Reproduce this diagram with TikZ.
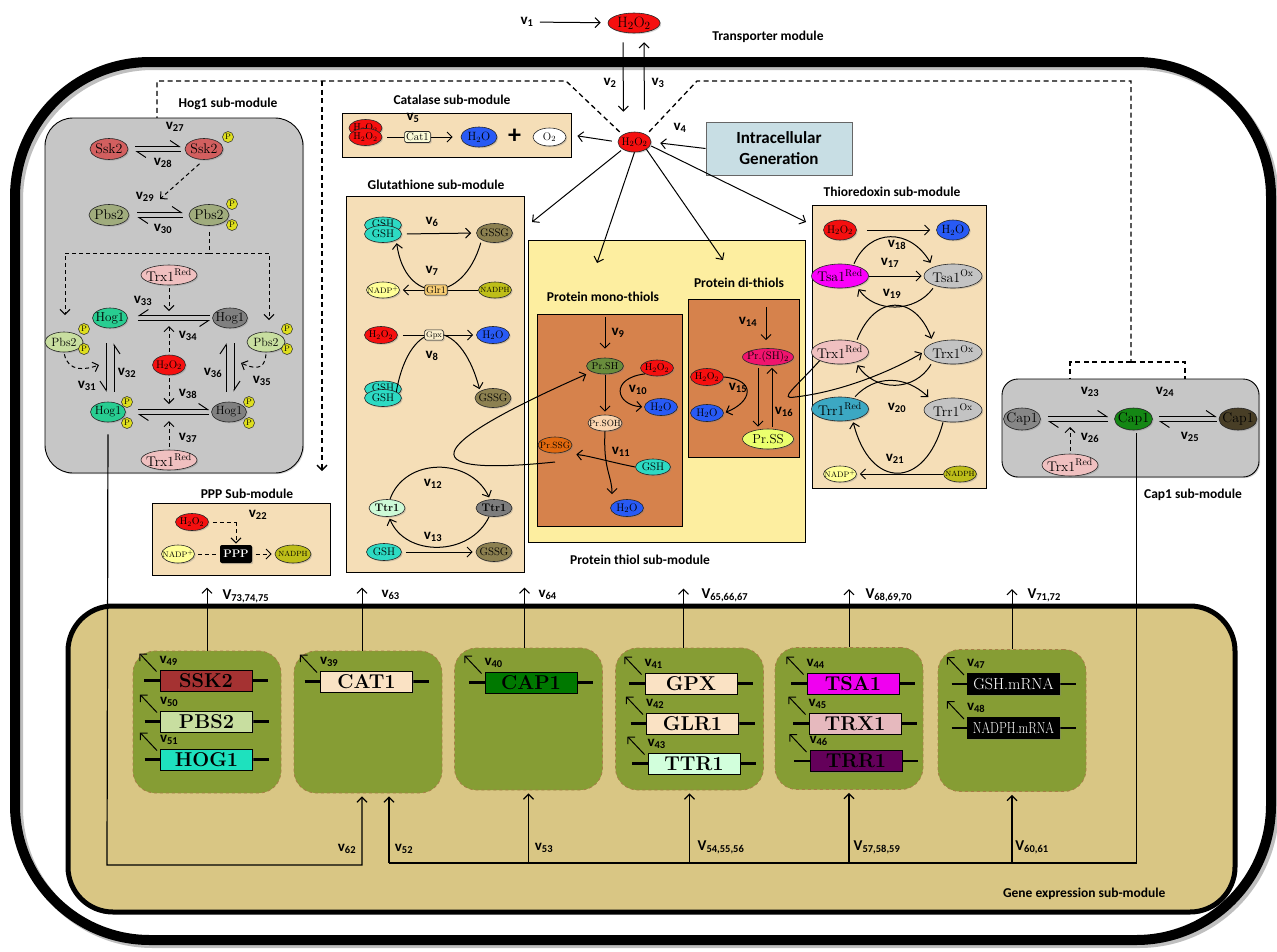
\documentclass[tikz,border=0pt]{standalone}
\usepackage{fontspec}
\newfontfamily\lab{Carlito}
\usetikzlibrary{arrows.meta,shapes.geometric,shadows}

% species colours
\definecolor{hred}{RGB}{245,15,15}
\definecolor{hblue}{RGB}{40,90,245}
\definecolor{tanb}{RGB}{245,222,183}
\definecolor{igen}{RGB}{200,222,228}
\definecolor{modgray}{RGB}{198,198,198}
\definecolor{ptyel}{RGB}{253,238,160}
\definecolor{ptorg}{RGB}{214,130,76}
\definecolor{sskc}{RGB}{210,95,95}
\definecolor{pbsd}{RGB}{160,172,125}
\definecolor{pbsl}{RGB}{200,222,160}
\definecolor{pyel}{RGB}{222,222,30}
\definecolor{hoggr}{RGB}{40,205,145}
\definecolor{hoggy}{RGB}{128,128,128}
\definecolor{trxred}{RGB}{240,192,192}
\definecolor{gshc}{RGB}{45,218,195}
\definecolor{gssgc}{RGB}{140,128,80}
\definecolor{nadpc}{RGB}{255,255,150}
\definecolor{nadphc}{RGB}{190,190,25}
\definecolor{glrc}{RGB}{248,205,115}
\definecolor{gpxc}{RGB}{250,238,205}
\definecolor{catc}{RGB}{250,250,215}
\definecolor{ttrl}{RGB}{205,250,215}
\definecolor{ttrg}{RGB}{125,125,125}
\definecolor{prshc}{RGB}{105,140,60}
\definecolor{prsohc}{RGB}{250,212,175}
\definecolor{prssgc}{RGB}{225,105,15}
\definecolor{prshtc}{RGB}{240,20,110}
\definecolor{prssc}{RGB}{235,255,110}
\definecolor{tsared}{RGB}{250,0,250}
\definecolor{oxgray}{RGB}{195,195,195}
\definecolor{trrred}{RGB}{60,168,195}
\definecolor{capgy}{RGB}{135,135,135}
\definecolor{capgn}{RGB}{20,135,20}
\definecolor{capdk}{RGB}{72,62,38}
% gene expression colours
\definecolor{getan}{RGB}{217,198,132}
\definecolor{grpfill}{RGB}{134,157,52}
\definecolor{grpline}{RGB}{165,125,70}
\definecolor{sskg}{RGB}{165,50,50}
\definecolor{pbsg}{RGB}{200,222,160}
\definecolor{hogg}{RGB}{30,225,190}
\definecolor{catg}{RGB}{250,226,196}
\definecolor{capg}{RGB}{0,120,0}
\definecolor{ttrgn}{RGB}{210,255,220}
\definecolor{tsag}{RGB}{240,0,240}
\definecolor{trxg}{RGB}{230,185,190}
\definecolor{trrg}{RGB}{100,0,90}

\tikzset{
  shd/.style={drop shadow={opacity=0.35,shadow xshift=1.2pt,shadow yshift=-1.2pt}},
  fs/.style={font=\fontsize{#1}{#1}\selectfont},
  mol/.style 2 args={ellipse,draw=black!85,line width=0.6pt,minimum width=#1,minimum height=#2,
    inner sep=0pt,shd,execute at begin node={\hbox to 0pt\bgroup\hss},execute at end node={\hss\egroup}},
  pho/.style={circle,draw=black!85,line width=0.5pt,fill=pyel,inner sep=0pt,minimum size=11pt,fs=8},
  enz/.style={rectangle,draw=black!85,line width=0.6pt,rounded corners=1.5pt,inner sep=1.5pt,shd},
  modbox/.style={rectangle,draw=black,line width=0.9pt,inner sep=0pt,shd},
  modlab/.style={font=\lab\bfseries\fontsize{13.5}{15}\selectfont,inner sep=0pt},
  rate/.style={font=\lab\bfseries\fontsize{15}{15}\selectfont,inner sep=0pt},
  dsh/.style={dash pattern=on 5pt off 3.5pt,line width=1.3pt},
  cat/.style={->,dash pattern=on 4pt off 3pt,line width=1pt},
  hp/.style={-{Straight Barb[left,length=9pt,width=12pt]}},
  hq/.style={-{Straight Barb[right,length=9pt,width=12pt]}},
  genegrp/.style={rectangle,draw=grpline,dashed,line width=0.8pt,fill=grpfill,rounded corners=22pt,
    minimum width=148pt,minimum height=142pt,inner sep=0pt},
  genebox/.style={rectangle,draw=black,line width=1pt,minimum width=92pt,minimum height=21pt,
    inner sep=0pt,font=\bfseries\fontsize{20}{20}\selectfont,shd},
}

\newcommand{\vsub}[1]{v\textsubscript{#1}}
\newcommand{\Vsub}[1]{V\textsubscript{#1}}
% gene: name, x, y, look, text, rate
\newcommand{\gene}[6]{%
  \draw[line width=2.4pt] (#2-62,#3) -- (#2+62,#3);
  \node[genebox,#4] (#1) at (#2,#3) {#5};
  \draw[->] ([xshift=-3pt,yshift=-2pt]#1.north west) -- ++(-17,-18);
  \node[rate,anchor=west] (#1v) at (#2-47,#3-20) {#6};}

\begin{document}
\begin{tikzpicture}[x=1pt,y=-1pt,>={Straight Barb[length=5pt,width=10pt]},line width=1pt]
\useasboundingbox (0,0) rectangle (1277,951);

% cell wall
\draw[line width=10pt,black!25,rounded corners=135pt] (18,65) rectangle (1274,943);
\draw[line width=10pt,rounded corners=135pt] (15,62) rectangle (1271,940);

% ---- transporter module
\node[mol={52pt}{20pt},fill=hred,fs=15] (h2o2ex) at (634,23) {H$_2$O$_2$};
\node[mol={33pt}{20pt},fill=hred,fs=11] (h2o2in) at (634.5,142) {H$_2$O$_2$};
\node[rate] (r1) at (527,22) {\vsub{1}};
\draw[->,shorten <=6pt,shorten >=7pt] (r1) -- (h2o2ex);
\draw[->,shorten <=9pt,shorten >=20pt] ([xshift=-11pt]h2o2ex.south) -- ([xshift=-11pt]h2o2in.north);
\draw[->,shorten <=22pt,shorten >=9pt] ([xshift=10pt]h2o2in.north) -- ([xshift=10pt]h2o2ex.south);
\node[rate] (r2) at (610,83) {\vsub{2}};
\node[rate] (r3) at (658,83) {\vsub{3}};
\node[modlab] (ltrans) at (768,37) {Transporter module};

\node[draw=black!60,fill=igen,line width=1pt,minimum width=146pt,minimum height=53pt,align=center,
  font=\lab\bfseries\fontsize{17}{21}\selectfont,shd] (igen) at (779,148.5) {Intracellular\\Generation};
\draw[->,shorten >=9pt] (igen.west) -- (h2o2in.east);
\node[rate] (r4) at (680,128) {\vsub{4}};

% signalling from cytosolic h2o2
\coordinate (dl1) at (566,81);
\coordinate (dl2) at (157,81);
\coordinate (dl3) at (157,131);
\coordinate (dl4) at (322,81);
\coordinate (dl5) at (322,471);
\coordinate (dr1) at (697,81);
\coordinate (dr2) at (1131,81);
\coordinate (dr3) at (1131,362);
\coordinate (dr4) at (1070,362);
\coordinate (dr5) at (1185,362);
\coordinate (c23) at (1070,404);
\coordinate (c24) at (1185,404);
\draw[dsh,->,shorten <=4pt] (h2o2in.north west) -- (dl1) -- (dl2) -- (dl3);
\draw[dsh,->] (dl4) -- (dl5);
\draw[dsh,shorten <=4pt] (h2o2in.north east) -- (dr1) -- (dr2) -- (dr3);
\draw[dsh,->] (dr3) -- (dr4) -- (c23);
\draw[dsh,->] (dr3) -- (dr5) -- (c24);

% ---- catalase
\node[modbox,fill=tanb,minimum width=229pt,minimum height=44pt] (catbox) at (456.5,135) {};
\node[modlab] (catlab) at (452,100) {Catalase sub-module};
\node[mol={33pt}{17pt},fill=hred,fs=10] (h2o2c1) at (365.5,128) {H$_2$O$_2$};
\node[mol={33pt}{17pt},fill=hred,fs=10] (h2o2c2) at (365.5,137) {H$_2$O$_2$};
\node[enz,fill=catc,fs=11] (cat1) at (417.5,137) {Cat1};
\node[mol={36pt}{20pt},fill=hblue,fs=12] (h2oc) at (479,137) {H$_2$O};
\node[font=\lab\bfseries\fontsize{26}{26}\selectfont,inner sep=0pt] (plus) at (514.5,136) {+};
\node[mol={33pt}{18pt},fill=white,fs=11] (o2c) at (549.5,137) {O$_2$};
\draw[shorten <=5pt] (h2o2c2.east) -- (cat1.west);
\draw[->,shorten >=8pt] (cat1.east) -- (h2oc.west);
\node[rate] (r5) at (413,118) {\vsub{5}};
\draw[->,shorten <=6pt,shorten >=6pt] (h2o2in.west) -- (catbox.east);

% ---- hog1 module
\node[modbox,fill=modgray,rounded corners=28pt,minimum width=258pt,minimum height=355pt] (hogbox) at (174,295.5) {};
\node[modlab] (hoglab) at (228,104) {Hog1 sub-module};
\node[mol={38pt}{21pt},fill=sskc,fs=14] (ssk2) at (109,149) {Ssk2};
\node[mol={38pt}{21pt},fill=sskc,fs=14] (ssk2p) at (204,149) {Ssk2};
\node[pho] (ssk2pa) at (228,137) {P};
\draw[hp,shorten <=7pt,shorten >=4pt] ([yshift=2.5pt]ssk2.east) -- ([yshift=2.5pt]ssk2p.west);
\draw[hp,shorten <=4pt,shorten >=7pt] ([yshift=-2.5pt]ssk2p.west) -- ([yshift=-2.5pt]ssk2.east);
\node[rate] (r27) at (175,127) {\vsub{27}};
\node[rate] (r28) at (163,163) {\vsub{28}};

\node[mol={40pt}{21pt},fill=pbsd,fs=14] (pbs2) at (109,215) {Pbs2};
\node[mol={40pt}{21pt},fill=pbsd,fs=14] (pbs2p) at (209,215) {Pbs2};
\node[pho] (pbs2pa) at (232,204) {P};
\node[pho] (pbs2pb) at (232,225) {P};
\draw[hp,shorten <=8pt,shorten >=6pt] ([yshift=2.5pt]pbs2.east) -- ([yshift=2.5pt]pbs2p.west);
\draw[hp,shorten <=6pt,shorten >=8pt] ([yshift=-2.5pt]pbs2p.west) -- ([yshift=-2.5pt]pbs2.east);
\coordinate (c29) at (160,199);
\draw[cat,shorten <=6pt] (ssk2p.south) -- (c29);
\node[rate] (r29) at (145,197) {\vsub{29}};
\node[rate] (r30) at (163,229) {\vsub{30}};

\node[mol={56pt}{20pt},fill=trxred,fs=14] (trx1a) at (169,275) {Trx1$^{\mathrm{Red}}$};
\node[mol={35pt}{20pt},fill=hoggr,fs=13] (hog1a) at (110,318) {Hog1};
\node[mol={35pt}{20pt},fill=hoggy,fs=13] (hog1b) at (230,318) {Hog1};
\node[mol={38pt}{20pt},fill=pbsl,fs=12] (pbs2l) at (64,342) {Pbs2};
\node[pho] (pbs2la) at (84,329) {P};
\node[pho] (pbs2lb) at (84,349) {P};
\node[mol={38pt}{20pt},fill=pbsl,fs=12] (pbs2r) at (266,342) {Pbs2};
\node[pho] (pbs2ra) at (287,329) {P};
\node[pho] (pbs2rb) at (287,349) {P};
\node[mol={33pt}{20pt},fill=hred,fs=11] (h2o2h) at (169,365) {H$_2$O$_2$};
\node[mol={35pt}{20pt},fill=hoggr,fs=12] (hog1c) at (108,412) {Hog1};
\node[pho] (hog1ca) at (127,402) {P};
\node[pho] (hog1cb) at (127,423) {P};
\node[mol={35pt}{20pt},fill=hoggy,fs=12] (hog1d) at (229,412) {Hog1};
\node[pho] (hog1da) at (249,402) {P};
\node[pho] (hog1db) at (249,423) {P};
\node[mol={56pt}{20pt},fill=trxred,fs=14] (trx1b) at (169,460) {Trx1$^{\mathrm{Red}}$};

% pbs2 feeds both hog1 branches
\coordinate (pb1) at (209,253);
\coordinate (pb2) at (65,253);
\coordinate (pb3) at (269,253);
\coordinate (pb4) at (65,315);
\coordinate (pb5) at (269,320);
\draw[cat,-,shorten <=6pt] (pbs2p.south) -- (pb1);
\draw[cat] (pb1) -- (pb2) -- (pb4);
\draw[cat] (pb1) -- (pb3) -- (pb5);

% hog1 oxidation / reduction
\draw[hq,shorten <=2pt,shorten >=10pt] ([yshift=2.5pt]hog1b.west) -- ([yshift=2.5pt]hog1a.east);
\draw[hq,shorten <=10pt,shorten >=2pt] ([yshift=-2.5pt]hog1a.east) -- ([yshift=-2.5pt]hog1b.west);
\draw[hp,shorten <=12pt,shorten >=2pt] ([yshift=2.5pt]hog1c.east) -- ([yshift=2.5pt]hog1d.west);
\draw[hp,shorten <=2pt,shorten >=12pt] ([yshift=-2.5pt]hog1d.west) -- ([yshift=-2.5pt]hog1c.east);
% hog1 phosphorylation
\draw[hq,shorten <=15pt,shorten >=10pt] ([xshift=-4pt]hog1a.south) -- ([xshift=-2pt]hog1c.north);
\draw[hq,shorten <=10pt,shorten >=15pt] ([xshift=6pt]hog1c.north) -- ([xshift=4pt]hog1a.south);
\draw[hp,shorten <=10pt,shorten >=15pt] ([xshift=-3pt]hog1d.north) -- ([xshift=-4pt]hog1b.south);
\draw[hp,shorten <=15pt,shorten >=10pt] ([xshift=4pt]hog1b.south) -- ([xshift=5pt]hog1d.north);

\coordinate (c33) at (169,311);
\coordinate (c34) at (169,326);
\coordinate (c38) at (169,404);
\coordinate (c37) at (169,421);
\coordinate (c31) at (99,365);
\coordinate (c35) at (241,363);
\draw[cat,shorten <=3pt] (trx1a.south) -- (c33);
\draw[cat,shorten <=3pt] (h2o2h.north) -- (c34);
\draw[cat,shorten <=3pt] (h2o2h.south) -- (c38);
\draw[cat,shorten <=3pt] (trx1b.north) -- (c37);
\draw[cat,shorten <=2pt] (pbs2l.south) .. controls (68,372) and (85,370) .. (c31);
\draw[cat,shorten <=2pt] (pbs2r.south) .. controls (265,372) and (252,368) .. (c35);
\node[rate] (r31) at (87,386) {\vsub{31}};
\node[rate] (r32) at (127,373) {\vsub{32}};
\node[rate] (r33) at (143,301) {\vsub{33}};
\node[rate] (r34) at (188,336) {\vsub{34}};
\node[rate] (r35) at (262,381) {\vsub{35}};
\node[rate] (r36) at (213,373) {\vsub{36}};
\node[rate] (r37) at (188,438) {\vsub{37}};
\node[rate] (r38) at (188,394) {\vsub{38}};

% ---- ppp module
\node[modbox,fill=tanb,minimum width=178pt,minimum height=72pt] (pppbox) at (241,539) {};
\node[modlab] (ppplab) at (247,494) {PPP Sub-module};
\node[mol={33pt}{17pt},fill=hred,fs=10] (h2o2p) at (192,522) {H$_2$O$_2$};
\node[mol={33pt}{18pt},fill=nadpc,fs=8] (nadpp) at (178,554) {NADP$^+$};
\node[rectangle,fill=black,text=white,rounded corners=2pt,minimum width=32pt,minimum height=18pt,inner sep=0pt,
  font=\bfseries\fontsize{11}{11}\selectfont,shd] (ppp) at (236,554) {PPP};
\node[mol={36pt}{18pt},fill=nadphc,fs=7.5] (nadphp) at (293,554) {NADPH};
\coordinate (pk) at (236,522);
\draw[cat,-,shorten <=4pt] (h2o2p.east) -- (pk);
\draw[cat,shorten >=1pt] (pk) -- (ppp.north);
\draw[cat,-,shorten <=3pt,shorten >=3pt] (nadpp.east) -- (ppp.west);
\draw[cat,shorten <=3pt,shorten >=3pt] (ppp.east) -- (nadphp.west);
\node[rate] (r22) at (258,515) {\vsub{22}};

% ---- glutathione module
\node[modbox,fill=tanb,minimum width=178pt,minimum height=376pt] (glutbox) at (435,384) {};
\node[modlab] (glutlab) at (436,185) {Glutathione sub-module};
\node[mol={37pt}{16pt},fill=gshc,fs=11] (gsh1b) at (383,225) {\raisebox{2pt}{GSH}};
\node[mol={37pt}{17pt},fill=gshc,fs=11] (gsh1) at (383,234) {GSH};
\node[mol={36pt}{19pt},fill=gssgc,fs=11] (gssg1) at (494.5,233) {GSSG};
\node[mol={33pt}{16pt},fill=nadpc,fs=8] (nadpg) at (383,290) {NADP$^+$};
\node[mol={33pt}{16pt},fill=nadphc,fs=7.5] (nadphg) at (495,290) {NADPH};
\draw[->,shorten <=5pt,shorten >=5pt] (gsh1.east) -- (gssg1.west);
\draw[->,shorten <=3pt,shorten >=3pt] (gssg1.south west) .. controls (463,305) and (405,305) .. (gsh1.south east);
\draw[->,shorten >=3pt] (nadphg) -- (nadpg);
\node[enz,fill=glrc,fs=10] (glr1) at (436,290) {Glr1};
\node[rate] (r6) at (432,222) {\vsub{6}};
\node[rate] (r7) at (432,271) {\vsub{7}};

\node[mol={33pt}{17pt},fill=hred,fs=10] (h2o2g) at (381,335) {H$_2$O$_2$};
\node[mol={33pt}{17pt},fill=hblue,fs=11] (h2og) at (493,335) {H$_2$O};
\node[mol={37pt}{16pt},fill=gshc,fs=11] (gsh2b) at (383,389) {\raisebox{2pt}{GSH}};
\node[mol={37pt}{17pt},fill=gshc,fs=11] (gsh2) at (383,398) {GSH};
\node[mol={36pt}{19pt},fill=gssgc,fs=11] (gssg2) at (493,398) {GSSG};
\draw[->,shorten <=5pt,shorten >=3pt] (h2o2g) -- (h2og);
\draw[->,shorten >=2pt] (gsh2.north east) .. controls (410,315) and (460,315) .. (gssg2.north west);
\node[enz,fill=gpxc,fs=8] (gpx) at (434,335) {Gpx};
\node[rate] (r8) at (432,356) {\vsub{8}};

\node[mol={36pt}{17pt},fill=ttrl,font=\bfseries\fontsize{11}{11}\selectfont] (ttr1a) at (387,508) {Ttr1};
\node[mol={36pt}{17pt},fill=ttrg,font=\bfseries\fontsize{11}{11}\selectfont] (ttr1b) at (494,508) {Ttr1};
\node[mol={35pt}{17pt},fill=gshc,fs=11] (gsh3) at (384,552) {GSH};
\node[mol={36pt}{19pt},fill=gssgc,fs=11] (gssg3) at (494,552) {GSSG};
\draw[->,shorten >=2pt] ([xshift=3pt]ttr1a.north) .. controls (405,457) and (470,457) .. ([xshift=-4pt]ttr1b.north);
\draw[->,shorten >=2pt] ([xshift=-5pt]ttr1b.south) .. controls (470,557) and (405,557) .. ([xshift=2pt]ttr1a.south);
\draw[->,shorten <=4pt,shorten >=3pt] (gsh3) -- (gssg3);
\node[rate] (r12) at (433,484) {\vsub{12}};
\node[rate] (r13) at (433,537) {\vsub{13}};

% ---- protein thiol module
\node[modbox,fill=ptyel,minimum width=277pt,minimum height=302pt] (ptbox) at (666.5,391) {};
\node[modlab] (ptlab) at (640,560) {Protein thiol sub-module};
\node[modbox,fill=ptorg,minimum width=145pt,minimum height=212pt] (monobox) at (609.5,420) {};
\node[modbox,fill=ptorg,minimum width=111pt,minimum height=158pt] (dibox) at (743.5,378) {};
\node[modlab] (monolab) at (603,297) {Protein mono-thiols};
\node[modlab] (dilab) at (739,283) {Protein di-thiols};

% ---- thioredoxin box (contents further down)
\node[modbox,fill=tanb,minimum width=174pt,minimum height=283pt] (thiobox) at (899,346.5) {};
\node[modlab] (thiolab) at (892,192) {Thioredoxin sub-module};

% arrows into the sub-modules
\coordinate (glutin) at (532,222);
\coordinate (monoin) at (597,263);
\coordinate (diin) at (723,260);
\coordinate (thioin) at (806,222);
\draw[->,shorten <=2pt] (h2o2in.south west) -- (glutin);
\draw[->] (h2o2in.south) -- (monoin);
\draw[->] (h2o2in.south east) -- (diin);
\draw[->] ([yshift=-4pt]h2o2in.east) -- (thioin);

% mono-thiols
\coordinate (v9src) at (605,317);
\node[mol={37pt}{16pt},fill=prshc,fs=10] (prsh) at (605,366) {Pr.SH};
\node[mol={33pt}{16pt},fill=hred,fs=10] (h2o2m) at (657,368) {H$_2$O$_2$};
\node[mol={33pt}{17pt},fill=hblue,fs=11] (h2om) at (661,407) {H$_2$O};
\node[mol={34pt}{16pt},fill=prsohc,fs=9] (prsoh) at (605,423) {Pr.SOH};
\node[mol={34pt}{16pt},fill=prssgc,fs=9] (prssg) at (555,445) {Pr.SSG};
\node[mol={35pt}{16pt},fill=gshc,fs=11] (gshm) at (653,467) {GSH};
\node[mol={33pt}{17pt},fill=hblue,fs=11] (h2om2) at (627,508) {H$_2$O};
\draw[->,shorten >=9pt] (v9src) -- (prsh.north);
\draw[->,shorten >=2pt] (h2o2m.south west) .. controls (610,378) and (615,405) .. (h2om.west);
\draw[->,shorten <=1pt,shorten >=3pt] (prsh) -- (prsoh);
\draw[->,shorten >=5pt] (prsoh.south) .. controls (603,470) and (612,475) .. ([xshift=-15pt]h2om2.north);
\draw[->,shorten >=4pt] (gshm.west) .. controls (610,462) and (590,456) .. ([yshift=-9pt]prssg.east);
\node[rate] (r9) at (618,333) {\vsub{9}};
\node[rate] (r10) at (638,390) {\vsub{10}};
\node[rate] (r11) at (621,452) {\vsub{11}};

% di-thiols
\coordinate (v14src) at (766,307);
\node[mol={51pt}{17pt},fill=prshtc,fs=11] (prsh2) at (768,357) {Pr.(SH)$_2$};
\node[mol={33pt}{17pt},fill=hred,fs=10] (h2o2d) at (707,377) {H$_2$O$_2$};
\node[mol={33pt}{17pt},fill=hblue,fs=11] (h2od) at (707,413) {H$_2$O};
\node[mol={51pt}{20pt},fill=prssc,fs=13] (prss) at (768,439) {Pr.SS};
\draw[->,shorten >=8pt] (v14src) -- ([xshift=-2pt]prsh2.north);
\draw[->,shorten >=2pt] (h2o2d.east) .. controls (757,380) and (752,402) .. (h2od.east);
\draw[->,shorten <=2pt,shorten >=2pt] ([xshift=-10pt]prsh2.south) -- ([xshift=-10pt]prss.north);
\draw[->,shorten <=2pt,shorten >=2pt] ([xshift=4pt]prss.north) -- ([xshift=4pt]prsh2.south);
\node[rate] (r14) at (748,322) {\vsub{14}};
\node[rate] (r15) at (738,388) {\vsub{15}};
\node[rate] (r16) at (784,412) {\vsub{16}};

% glutathionylated protein recycled back to pr.sh
\draw[->,shorten >=6pt] ([yshift=-17pt]prssg.center) .. controls (380,480) and (460,430) .. (prsh.south west);

% ---- thioredoxin module
\node[mol={33pt}{20pt},fill=hred,fs=11] (h2o2t) at (840,230) {H$_2$O$_2$};
\node[mol={33pt}{20pt},fill=hblue,fs=12] (h2ot) at (953,230) {H$_2$O};
\node[mol={57pt}{24pt},fill=tsared,fs=14] (tsa1r) at (840,276) {Tsa1$^{\mathrm{Red}}$};
\node[mol={58pt}{24pt},fill=oxgray,fs=14] (tsa1o) at (953,276) {Tsa1$^{\mathrm{Ox}}$};
\node[mol={57pt}{24pt},fill=trxred,fs=14] (trx1r) at (840,352) {Trx1$^{\mathrm{Red}}$};
\node[mol={58pt}{24pt},fill=oxgray,fs=14] (trx1o) at (953,352) {Trx1$^{\mathrm{Ox}}$};
\node[mol={57pt}{24pt},fill=trrred,fs=14] (trr1r) at (840,409) {Trr1$^{\mathrm{Red}}$};
\node[mol={58pt}{24pt},fill=oxgray,fs=14] (trr1o) at (953,410) {Trr1$^{\mathrm{Ox}}$};
\node[mol={33pt}{16pt},fill=nadpc,fs=8] (nadpt) at (840,474) {NADP$^+$};
\node[mol={33pt}{16pt},fill=nadphc,fs=7.5] (nadpht) at (960,474) {NADPH};
\draw[->,shorten <=10pt,shorten >=6pt] (h2o2t) -- (h2ot);
\draw[->,shorten >=1pt] ([xshift=14pt]tsa1r.north) .. controls (870,228) and (910,228) .. ([xshift=-22pt]tsa1o.north);
\draw[->,shorten >=2pt] (tsa1r.east) -- (tsa1o.west);
\draw[->,shorten >=1pt] ([xshift=-20pt]tsa1o.south) .. controls (915,313) and (875,313) .. ([xshift=18pt]tsa1r.south);
\draw[->,shorten >=1pt] ([xshift=17pt]trx1r.north) .. controls (875,294) and (915,294) .. ([xshift=-21pt]trx1o.north);
\draw[->,shorten >=1pt] ([xshift=-22pt]trx1o.south) .. controls (915,392) and (875,392) .. ([xshift=17pt]trx1r.south);
\draw[->,shorten >=1pt] ([xshift=15pt]trr1r.north) .. controls (875,375) and (905,375) .. ([xshift=-24pt]trr1o.north);
\draw[->,shorten >=1pt] ([xshift=-10pt]trr1o.south) .. controls (925,490) and (870,490) .. ([xshift=13pt]trr1r.south);
\draw[->,shorten >=3pt] (nadpht) -- (nadpt);
% trx1 reduces the di-thiol disulphide
\draw[->,shorten >=2pt] (trx1r.south west) .. controls (795,388) and (778,400) .. (795,397) .. controls (840,392) and (890,372) .. (trx1o.west);
\node[rate] (r17) at (890,263) {\vsub{17}};
\node[rate] (r18) at (897,245) {\vsub{18}};
\node[rate] (r19) at (892,294) {\vsub{19}};
\node[rate] (r20) at (897,408) {\vsub{20}};
\node[rate] (r21) at (895,459) {\vsub{21}};

% ---- cap1 module
\node[modbox,fill=modgray,rounded corners=16pt,minimum width=257pt,minimum height=98pt] (capbox) at (1130.5,428) {};
\node[modlab] (caplab) at (1193,495) {Cap1 sub-module};
\node[mol={37pt}{22pt},fill=capgy,fs=14] (cap1a) at (1022,419) {Cap1};
\node[mol={38pt}{22pt},fill=capgn,fs=14] (cap1g) at (1133.5,419) {Cap1};
\node[mol={38pt}{22pt},fill=capdk,fs=14] (cap1d) at (1238,419) {Cap1};
\node[mol={56pt}{22pt},fill=trxred,fs=14] (trx1c) at (1070,465) {Trx1$^{\mathrm{Red}}$};
\draw[hp,shorten <=7pt,shorten >=6pt] ([yshift=2.5pt]cap1a.east) -- ([yshift=2.5pt]cap1g.west);
\draw[hp,shorten <=6pt,shorten >=7pt] ([yshift=-2.5pt]cap1g.west) -- ([yshift=-2.5pt]cap1a.east);
\draw[hp,shorten <=6pt,shorten >=2pt] ([yshift=2.5pt]cap1g.east) -- ([yshift=2.5pt]cap1d.west);
\draw[hp,shorten <=2pt,shorten >=6pt] ([yshift=-2.5pt]cap1d.west) -- ([yshift=-2.5pt]cap1g.east);
\coordinate (c26) at (1070,427);
\draw[cat,shorten <=3pt] (trx1c.north) -- (c26);
\node[rate] (r23) at (1090,392) {\vsub{23}};
\node[rate] (r24) at (1165,392) {\vsub{24}};
\node[rate] (r25) at (1190,437) {\vsub{25}};
\node[rate] (r26) at (1090,438) {\vsub{26}};

% ---- gene expression module
\node[rectangle,draw=black,line width=5pt,fill=getan,rounded corners=45pt,minimum width=1167pt,
  minimum height=306pt,inner sep=0pt,shd] (gebox) at (651.5,759) {};
\node[modlab,anchor=east] (gelab) at (1166,894) {Gene expression sub-module};
\node[genegrp] (g1) at (207,722) {};
\node[genegrp] (g2) at (368,722) {};
\node[genegrp] (g3) at (528.5,719) {};
\node[genegrp] (g4) at (689.5,719) {};
\node[genegrp] (g5) at (849,718.5) {};
\node[genegrp] (g6) at (1012,720.5) {};

\gene{gssk}{206}{680.5}{fill=sskg}{SSK2}{\vsub{49}}
\gene{gpbs}{206.5}{721.5}{fill=pbsg}{PBS2}{\vsub{50}}
\gene{ghog}{206.5}{759.5}{fill=hogg}{HOG1}{\vsub{51}}
\gene{gcat}{366.5}{681.5}{fill=catg}{CAT1}{\vsub{39}}
\gene{gcap}{531}{682.5}{fill=capg}{CAP1}{\vsub{40}}
\gene{ggpx}{691}{683.5}{fill=catg}{GPX}{\vsub{41}}
\gene{gglr}{692.5}{723.5}{fill=catg}{GLR1}{\vsub{42}}
\gene{gttr}{694}{763.5}{fill=ttrgn}{TTR1}{\vsub{43}}
\gene{gtsa}{853}{683.5}{fill=tsag}{TSA1}{\vsub{44}}
\gene{gtrx}{855}{723.5}{fill=trxg}{TRX1}{\vsub{45}}
\gene{gtrr}{856}{761}{fill=trrg}{TRR1}{\vsub{46}}
\gene{ggsh}{1013.5}{684}{fill=black,text=white,fs=16}{GSH.mRNA}{\vsub{47}}
\gene{gnadph}{1013.5}{728}{fill=black,text=white,fs=16}{\scalebox{0.78}[1]{NADPH.mRNA}}{\vsub{48}}

% translation back to the sub-modules
\draw[->] (g1.north) -- ++(0,-63);
\draw[->] ([xshift=-6pt]g2.north) -- ++(0,-63);
\draw[->] ([xshift=-4pt]g3.north) -- ++(0,-60);
\draw[->] ([xshift=-6pt]g4.north) -- ++(0,-59);
\draw[->] (g5.north) -- ++(0,-58);
\draw[->] (g6.north) -- ++(0,-60);
\node[rate,anchor=west] (r73) at (222,596) {\Vsub{73,74,75}};
\node[rate,anchor=west] (r63) at (381,595) {\vsub{63}};
\node[rate,anchor=west] (r64) at (538,595) {\vsub{64}};
\node[rate,anchor=west] (r65) at (701,595) {\Vsub{65,66,67}};
\node[rate,anchor=west] (r68) at (865,595) {\Vsub{68,69,70}};
\node[rate,anchor=west] (r71) at (1027,595) {\Vsub{71,72}};

% transcription signals from hog1 and cap1
\coordinate (hbus) at (107,865);
\coordinate (cbusl) at (389,863);
\coordinate (cbus) at (1136.5,863);
\draw[->,line width=1.2pt,shorten <=12pt,shorten >=3pt] (hog1c.south) -- (hbus) -| ([xshift=-6pt]g2.south);
\draw[line width=1.2pt,shorten <=3pt] ([xshift=3pt]cap1g.south) |- (cbusl);
\draw[->,line width=1.2pt,shorten >=3pt] (cbusl) -- (cbusl |- g2.south);
\draw[->,line width=1.2pt,shorten >=3pt] (g3.south |- cbus) -- (g3.south);
\draw[->,line width=1.2pt,shorten >=3pt] (g4.south |- cbus) -- (g4.south);
\draw[->,line width=1.2pt,shorten >=3pt] (g5.south |- cbus) -- (g5.south);
\draw[->,line width=1.2pt,shorten >=3pt] (g6.south |- cbus) -- (g6.south);
\node[rate] (r62) at (347,849) {\vsub{62}};
\node[rate] (r52) at (404,849) {\vsub{52}};
\node[rate] (r53) at (544,848) {\vsub{53}};
\node[rate] (r54) at (721,847) {\Vsub{54,55,56}};
\node[rate] (r57) at (877,847) {\Vsub{57,58,59}};
\node[rate] (r60) at (1032,847) {\Vsub{60,61}};
\end{tikzpicture}
\end{document}
